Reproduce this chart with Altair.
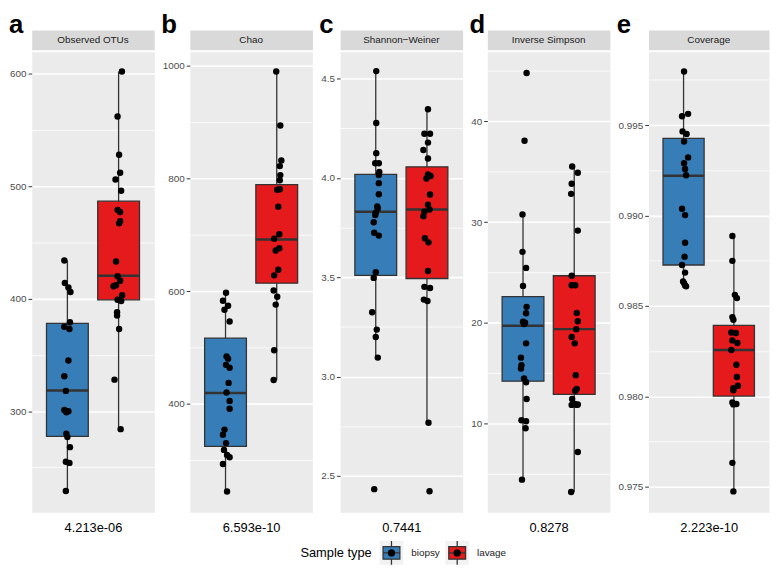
import altair as alt
import pandas as pd

FONT = "Liberation Sans"
TYPES = ["biopsy", "lavage"]
COLORS = ["#377EB8", "#E41A1C"]

letters = ["a", "b", "c", "d", "e"]
strip_titles = ["Observed OTUs", "Chao", "Shannon\u2212Weiner", "Inverse Simpson", "Coverage"]
p_values = ["4.213e-06", "6.593e-10", "0.7441", "0.8278", "2.223e-10"]
legend_title = "Sample type"

a_biopsy = [434, 414, 410, 406, 379, 375, 373, 345, 331, 318, 301, 300, 299, 280, 277, 268, 255, 254, 229]
a_biopsy_jit = [-0.06, -0.05, 0.02, 0.06, 0.05, -0.06, 0.04, 0.02, -0.06, -0.03, -0.06, 0.02, -0.02, -0.02, 0.0, 0.05, -0.03, 0.04, -0.03]
a_lavage = [602, 562, 528, 512, 506, 496, 479, 477, 469, 467, 433, 420, 416, 412, 411, 403, 399, 398, 388, 385, 373, 328, 284]
a_lavage_jit = [0.065, -0.02, 0.01, 0.03, -0.06, 0.05, -0.02, 0.03, 0.03, 0.01, -0.05, -0.02, 0.03, -0.05, -0.1, 0.07, -0.02, 0.05, -0.03, -0.03, 0.01, -0.08, 0.04]

b_biopsy = [597, 583, 574, 567, 546, 484, 480, 469, 464, 437, 420, 405, 391, 354, 345, 330, 318, 309, 305, 293, 244]
b_biopsy_jit = [0.01, -0.05, 0.05, -0.02, 0.08, 0.02, 0.05, 0.01, 0.08, 0.06, 0.02, 0.08, 0.08, -0.02, -0.05, 0.01, -0.03, 0.03, 0.08, -0.05, 0.03]
b_lavage = [990, 894, 832, 822, 806, 797, 781, 780, 750, 701, 693, 676, 672, 638, 628, 601, 590, 576, 495, 442]
b_lavage_jit = [-0.01, 0.07, 0.09, 0.06, 0.07, 0.06, 0.06, 0.01, 0.03, 0.05, -0.05, 0.05, -0.02, 0.03, -0.05, -0.06, 0.01, -0.02, -0.05, -0.06]

c_biopsy = [4.538, 4.277, 4.125, 4.074, 4.074, 4.03, 4.015, 3.974, 3.918, 3.857, 3.846, 3.825, 3.814, 3.777, 3.724, 3.71, 3.526, 3.497, 3.324, 3.237, 3.2, 3.096, 2.434]
c_biopsy_jit = [0.01, 0.01, 0.01, -0.01, 0.06, 0.07, 0.06, 0.06, 0.06, 0.03, 0.04, 0.0, -0.01, -0.04, -0.03, 0.06, 0.0, -0.04, -0.07, 0.02, 0.0, 0.04, -0.03]
c_lavage = [4.346, 4.223, 4.223, 4.178, 4.141, 4.098, 4.018, 3.997, 4.01, 3.917, 3.865, 3.841, 3.83, 3.808, 3.697, 3.676, 3.532, 3.452, 3.446, 3.388, 3.381, 2.768, 2.423]
c_lavage_jit = [0.02, -0.05, 0.06, 0.02, -0.07, 0.02, 0.02, -0.01, 0.07, 0.06, 0.02, 0.05, -0.05, -0.07, -0.04, 0.03, 0.02, -0.05, 0.06, -0.06, 0.01, 0.03, 0.05]

d_biopsy = [44.8, 38.07, 30.76, 27.04, 25.45, 23.66, 21.58, 20.95, 20.1, 20.0, 19.88, 17.96, 16.54, 15.78, 15.46, 14.48, 14.1, 12.43, 10.32, 10.22, 9.53, 4.43]
d_biopsy_jit = [0.07, 0.03, -0.01, -0.01, 0.06, 0.0, 0.07, 0.06, 0.0, 0.04, 0.02, 0.06, -0.04, -0.03, -0.04, 0.02, 0.06, 0.07, -0.03, 0.06, 0.05, -0.02]
d_lavage = [35.52, 34.9, 33.8, 32.8, 29.15, 24.67, 23.72, 23.72, 20.98, 20.15, 19.37, 18.6, 17.96, 14.8, 13.44, 13.25, 12.43, 11.95, 11.9, 11.85, 11.85, 7.17, 3.2]
d_lavage_jit = [-0.04, 0.07, -0.05, -0.06, 0.07, -0.05, -0.05, 0.02, 0.05, 0.07, 0.04, -0.05, 0.01, 0.03, 0.05, 0.02, -0.04, 0.01, 0.07, -0.05, 0.05, 0.07, -0.06]

e_biopsy = [0.99796, 0.99562, 0.99549, 0.99465, 0.99451, 0.99409, 0.99321, 0.99289, 0.99257, 0.99222, 0.99037, 0.99002, 0.98849, 0.98772, 0.98726, 0.98684, 0.98635, 0.98626, 0.98613, 0.98608]
e_biopsy_jit = [0.01, 0.09, -0.03, -0.02, 0.06, 0.01, 0.09, 0.01, 0.03, 0.05, -0.03, 0.03, 0.03, 0.02, -0.03, 0.03, -0.01, 0.01, 0.03, 0.05]
e_lavage = [0.98886, 0.98749, 0.98561, 0.98543, 0.98438, 0.98423, 0.98353, 0.9835, 0.98309, 0.98295, 0.98256, 0.98174, 0.98107, 0.98058, 0.98045, 0.98033, 0.97966, 0.97957, 0.97955, 0.97632, 0.97474]
e_lavage_jit = [-0.03, -0.03, 0.02, 0.06, -0.03, -0.01, -0.05, 0.04, -0.03, 0.07, -0.05, 0.05, 0.06, 0.08, -0.01, -0.01, -0.03, 0.05, -0.01, -0.03, -0.01]

# box statistics (biopsy, lavage): q1, median, q3, whisker low, whisker high
box_q1 = [[277.6, 399], [324.3, 614], [3.51, 3.494], [14.2, 12.9], [0.98726, 0.98001]]
box_med = [[318.4, 420.3], [419.2, 691.5], [3.83, 3.841], [19.7, 19.37], [0.99219, 0.98256]]
box_q3 = [[378, 486.7], [516.4, 789.3], [4.018, 4.056], [22.6, 24.67], [0.99426, 0.98392]]
box_lo = [[229, 283.6], [244, 442], [3.096, 2.768], [4.43, 3.2], [0.98608, 0.97474]]
box_hi = [[434, 601.7], [597, 990], [4.538, 4.346], [30.76, 35.52], [0.99796, 0.98886]]

y_domains = [[210, 619.5], [207, 1025], [2.317, 4.635], [1.18, 46.9], [0.97358, 0.99905]]
y_major = [[300, 400, 500, 600], [400, 600, 800, 1000], [2.5, 3.0, 3.5, 4.0, 4.5],
           [10, 20, 30, 40], [0.975, 0.98, 0.985, 0.99, 0.995]]
y_minor = [[250, 350, 450, 550], [300, 500, 700, 900], [2.75, 3.25, 3.75, 4.25],
           [5, 15, 25, 35, 45], [0.9775, 0.9825, 0.9875, 0.9925, 0.9975]]
y_formats = ["d", "d", ".1f", "d", ".3f"]

values = [(a_biopsy, a_lavage), (b_biopsy, b_lavage), (c_biopsy, c_lavage), (d_biopsy, d_lavage), (e_biopsy, e_lavage)]
jitters = [(a_biopsy_jit, a_lavage_jit), (b_biopsy_jit, b_lavage_jit), (c_biopsy_jit, c_lavage_jit),
           (d_biopsy_jit, d_lavage_jit), (e_biopsy_jit, e_lavage_jit)]

widths = [124, 124, 124, 124, 122]
axis_room = [23, 29, 21, 18, 32]   # where each panel letter sits, left of its plot
H = 466
fill_scale = alt.Scale(domain=TYPES, range=COLORS)


def make_column(i):
    w = widths[i]
    bw = 0.75 * w / 2.2
    bvals, lvals = values[i]
    bj, lj = jitters[i]
    pts = pd.DataFrame({
        "type": ["biopsy"] * len(bvals) + ["lavage"] * len(lvals),
        "xj": [1 + j for j in bj] + [2 + j for j in lj],
        "value": bvals + lvals,
    })
    box = pd.DataFrame({
        "type": TYPES, "pos": [1, 2],
        "q1": box_q1[i], "med": box_med[i], "q3": box_q3[i],
        "lo": box_lo[i], "hi": box_hi[i],
    })
    xs = alt.Scale(domain=[0.4, 2.6], nice=False, zero=False)
    ys = alt.Scale(domain=y_domains[i], nice=False, zero=False)
    majors = y_major[i]
    ticks = sorted(y_major[i] + y_minor[i])
    test = "(" + " || ".join(f"abs(datum.value - {m}) < {abs(m) * 1e-9 + 1e-12}" for m in majors) + ")"
    yaxis = alt.Axis(
        values=ticks, format=y_formats[i], labelExpr=f"{test} ? datum.label : ''",
        grid=True, gridColor="white",
        gridWidth={"condition": {"test": test, "value": 1.6}, "value": 0.8},
        tickOpacity={"condition": {"test": test, "value": 1}, "value": 0},
        tickColor="#333333", tickSize=3.7, tickWidth=1,
        labelColor="#4D4D4D", labelFontSize=10, labelPadding=2,
        domain=False, title=None,
    )
    xaxis = alt.Axis(labels=False, ticks=False, domain=False, grid=False,
                     title=p_values[i], titleFontSize=13, titleFontWeight="normal",
                     titleColor="black", titlePadding=9)

    whisk = alt.Chart(box).mark_rule(color="#333333", strokeWidth=1.3).encode(
        x=alt.X("pos:Q", scale=xs, axis=xaxis),
        y=alt.Y("lo:Q", scale=ys, axis=yaxis), y2="hi:Q")
    bars = alt.Chart(box).mark_bar(size=bw, stroke="#333333", strokeWidth=1.3, opacity=1).encode(
        x=alt.X("pos:Q", scale=xs, axis=xaxis),
        y=alt.Y("q1:Q", scale=ys, axis=yaxis), y2="q3:Q",
        fill=alt.Fill("type:N", scale=fill_scale, legend=None))
    med = alt.Chart(box).mark_tick(orient="horizontal", size=bw, thickness=2.5,
                                   color="#333333", opacity=1).encode(
        x=alt.X("pos:Q", scale=xs, axis=xaxis),
        y=alt.Y("med:Q", scale=ys, axis=yaxis))
    dots = alt.Chart(pts).mark_circle(size=42, color="black", opacity=1).encode(
        x=alt.X("xj:Q", scale=xs, axis=xaxis),
        y=alt.Y("value:Q", scale=ys, axis=yaxis))
    panel = alt.layer(whisk, bars, med, dots).properties(
        width=w, height=H, view=alt.ViewBackground(fill="#EBEBEB", stroke="transparent"))

    sdf = pd.DataFrame({"label": [strip_titles[i]], "letter": [letters[i]]})
    strip_text = alt.Chart(sdf).mark_text(
        fontSize=10, color="#1A1A1A", baseline="middle", align="center").encode(
        text="label:N", x=alt.value(w / 2), y=alt.value(10))
    letter_text = alt.Chart(sdf).mark_text(
        fontSize=26, fontWeight="bold", color="black", baseline="alphabetic", align="left").encode(
        text="letter:N", x=alt.value(-axis_room[i]), y=alt.value(3))
    strip = alt.layer(strip_text, letter_text).properties(
        width=w, height=20, view=alt.ViewBackground(fill="#D9D9D9", stroke="transparent"))

    return alt.vconcat(strip, panel, spacing=0)


columns = alt.hconcat(*[make_column(i) for i in range(5)], spacing=5)

# ---- legend row: keys placed by a point scale whose range spans the key slots ----
LW = 740
GLYPH = "M-1,-0.75L1,-0.75L1,0.75L-1,0.75Z M-1,0L1,0 M0,-1.41L0,-0.75 M0,0.75L0,1.41"
leg_df = pd.DataFrame({"type": TYPES})
lx = alt.X("type:N", scale=alt.Scale(type="point", domain=TYPES, padding=0, range=[364, 430.5]), axis=None)
ly = alt.value(12)
bg = alt.Chart(leg_df).mark_square(size=576, color="#F2F2F2", opacity=1).encode(x=lx, y=ly)
glyph = alt.Chart(leg_df).mark_point(shape=GLYPH, size=289, filled=True, stroke="#333333",
                                     strokeWidth=1.3, opacity=1).encode(
    x=lx, y=ly, fill=alt.Fill("type:N", scale=fill_scale, legend=None))
dot = alt.Chart(leg_df).mark_circle(size=54, color="black", opacity=1).encode(x=lx, y=ly)
lab = alt.Chart(leg_df).mark_text(align="left", dx=20, fontSize=10, color="#1A1A1A",
                                  baseline="middle").encode(x=lx, y=ly, text="type:N")
ttl = alt.Chart(pd.DataFrame({"type": [TYPES[0]], "t": [legend_title]})).mark_text(
    align="right", dx=-20, fontSize=13, color="black", baseline="middle").encode(
    x=lx, y=ly, text="t:N")
legend = alt.layer(bg, glyph, dot, lab, ttl).properties(width=LW, height=24)

chart = alt.vconcat(columns, legend, spacing=2).properties(
    padding=0, background="white"
).configure(font=FONT).configure_view(stroke="transparent")

chart.save("out.html", embed_options={"renderer": "svg", "actions": False})
